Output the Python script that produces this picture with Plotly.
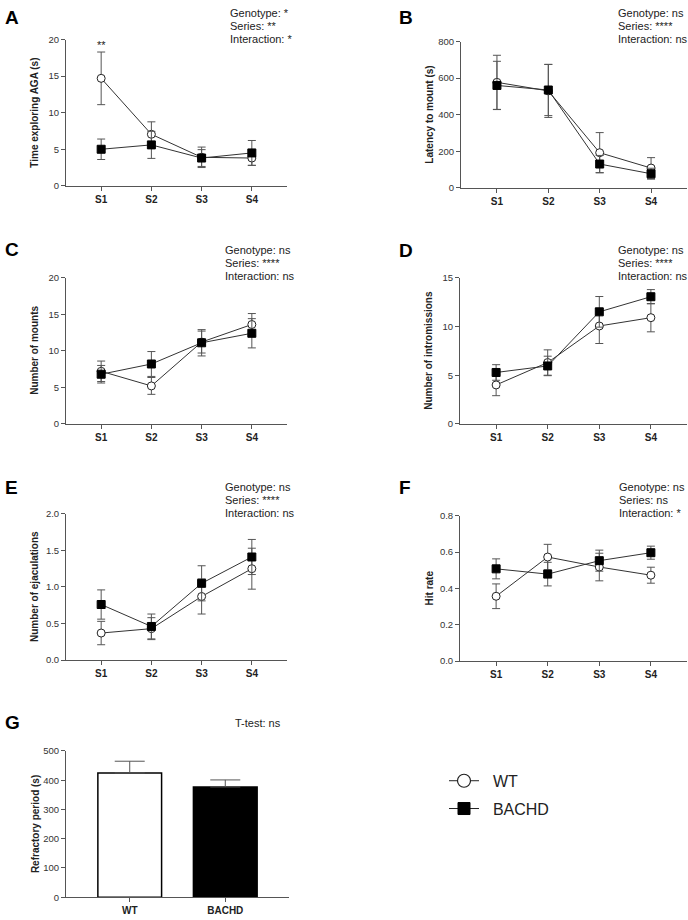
import plotly.graph_objects as go

sessions = ["S1", "S2", "S3", "S4"]
groups = ["WT", "BACHD"]

# Panel A: Time exploring AGA (s)
a_wt_mean = [14.7, 7.05, 3.9, 3.8]
a_wt_sem = [3.6, 1.7, 1.4, 1.0]
a_bachd_mean = [5.0, 5.6, 3.8, 4.5]
a_bachd_sem = [1.4, 1.85, 1.15, 1.7]

# Panel B: Latency to mount (s)
b_wt_mean = [577, 530, 192, 108]
b_wt_sem = [148, 145, 110, 57]
b_bachd_mean = [560, 535, 130, 77]
b_bachd_sem = [132, 140, 47, 30]

# Panel C: Number of mounts
c_wt_mean = [7.2, 5.2, 11.2, 13.6]
c_wt_sem = [1.4, 1.15, 1.5, 1.5]
c_bachd_mean = [6.8, 8.2, 11.1, 12.4]
c_bachd_sem = [1.2, 1.7, 1.8, 2.0]

# Panel D: Number of intromissions
d_wt_mean = [4.0, 6.3, 10.05, 10.9]
d_wt_sem = [1.1, 1.3, 1.8, 1.45]
d_bachd_mean = [5.28, 5.95, 11.5, 13.05]
d_bachd_sem = [0.8, 1.0, 1.57, 0.73]

# Panel E: Number of ejaculations
e_wt_mean = [0.37, 0.43, 0.87, 1.25]
e_wt_sem = [0.16, 0.15, 0.24, 0.28]
e_bachd_mean = [0.76, 0.46, 1.05, 1.41]
e_bachd_sem = [0.2, 0.17, 0.24, 0.24]

# Panel F: Hit rate
f_wt_mean = [0.357, 0.573, 0.518, 0.473]
f_wt_sem = [0.068, 0.07, 0.076, 0.044]
f_bachd_mean = [0.508, 0.479, 0.553, 0.597]
f_bachd_sem = [0.055, 0.065, 0.058, 0.036]

# Panel G: Refractory period (s)
g_mean = [425, 377]
g_sem = [40, 24]

W, H = 688, 920
FONT = "Arial, Liberation Sans, sans-serif"
AX = "#555555"
TXT = "#222222"


def px_x(p):
    return p / W


def px_y(p):
    return 1 - p / H


panels = [
    dict(k="", letter="A", ly=12, sx=228, sy=7, xd=(66, 287), yd=(34, 182), yr=(0, 20), dt=5, fmt="",
         title="Time exploring AGA (s)",
         d=(a_wt_mean, a_wt_sem, a_bachd_mean, a_bachd_sem),
         stats=["Genotype: *", "Series: **", "Interaction: *"]),
    dict(k="2", letter="B", ly=12, sx=616, sy=7, xd=(461, 687), yd=(36, 184), yr=(0, 800), dt=200, fmt="",
         title="Latency to mount (s)",
         d=(b_wt_mean, b_wt_sem, b_bachd_mean, b_bachd_sem),
         stats=["Genotype: ns", "Series: ****", "Interaction: ns"]),
    dict(k="3", letter="C", ly=246, sx=223, sy=247, xd=(66, 287), yd=(275, 423), yr=(0, 20), dt=5, fmt="",
         title="Number of mounts",
         d=(c_wt_mean, c_wt_sem, c_bachd_mean, c_bachd_sem),
         stats=["Genotype: ns", "Series: ****", "Interaction: ns"]),
    dict(k="4", letter="D", ly=247, sx=616, sy=247, xd=(460, 687), yd=(275, 423), yr=(0, 15), dt=5, fmt="",
         title="Number of intromissions",
         d=(d_wt_mean, d_wt_sem, d_bachd_mean, d_bachd_sem),
         stats=["Genotype: ns", "Series: ****", "Interaction: ns"]),
    dict(k="5", letter="E", ly=487, sx=223, sy=487, xd=(66, 287), yd=(514, 662), yr=(0, 2), dt=0.5, fmt=".1f",
         title="Number of ejaculations",
         d=(e_wt_mean, e_wt_sem, e_bachd_mean, e_bachd_sem),
         stats=["Genotype: ns", "Series: ****", "Interaction: ns"]),
    dict(k="6", letter="F", ly=487, sx=617, sy=487, xd=(460, 687), yd=(516, 663), yr=(0, 0.8), dt=0.2, fmt=".1f",
         title="Hit rate",
         d=(f_wt_mean, f_wt_sem, f_bachd_mean, f_bachd_sem),
         stats=["Genotype: ns", "Series: ns", "Interaction: *"]),
]

fig = go.Figure()
layout = dict(
    width=W, height=H, margin=dict(l=0, r=0, t=0, b=0),
    paper_bgcolor="white", plot_bgcolor="white",
    font=dict(family=FONT, color=TXT),
    showlegend=True,
)
annotations = []


def axis_common():
    return dict(showline=True, linecolor=AX, linewidth=1, ticks="outside",
                ticklen=4, tickcolor=AX, tickwidth=1, showgrid=False,
                zeroline=False)


for p in panels:
    k = p["k"]
    xa = "x" + k
    ya = "y" + k
    wt_m, wt_s, bh_m, bh_s = p["d"]
    fig.add_trace(go.Scatter(
        x=sessions, y=wt_m, xaxis=xa, yaxis=ya, mode="lines+markers",
        line=dict(color="#333333", width=1),
        marker=dict(symbol="circle", size=8, color="white",
                    line=dict(color="#222222", width=1)),
        error_y=dict(type="data", array=wt_s, color="#555555", thickness=1, width=4),
        showlegend=False, name="WT"))
    fig.add_trace(go.Scatter(
        x=sessions, y=bh_m, xaxis=xa, yaxis=ya, mode="lines+markers",
        line=dict(color="#333333", width=1),
        marker=dict(symbol="square", size=8, color="black",
                    line=dict(color="black", width=1)),
        error_y=dict(type="data", array=bh_s, color="#555555", thickness=1, width=4),
        showlegend=False, name="BACHD"))
    xd = [px_x(p["xd"][0]), px_x(p["xd"][1])]
    yd = [px_y(p["yd"][1]), px_y(p["yd"][0])]
    xkey = "xaxis" + k
    ykey = "yaxis" + k
    layout[xkey] = dict(axis_common(), domain=xd, anchor=ya, type="category",
                        range=[-0.7, 3.7],
                        tickfont=dict(family=FONT, size=10, color=TXT, weight="bold"))
    layout[ykey] = dict(axis_common(), domain=yd, anchor=xa,
                        range=list(p["yr"]), dtick=p["dt"], tick0=0,
                        tickformat=p["fmt"],
                        tickfont=dict(family=FONT, size=9.5, color="#333333"))
    annotations.append(dict(
        text="<b>" + p["title"] + "</b>", xref="paper", yref="paper",
        x=px_x(p["xd"][0] - 31), y=(yd[0] + yd[1]) / 2, textangle=-90,
        xanchor="center", yanchor="middle", showarrow=False,
        font=dict(family=FONT, size=10, color=TXT)))
    lx = 3 if p["xd"][0] < 300 else 397
    annotations.append(dict(
        text="<b>" + p["letter"] + "</b>", xref="paper", yref="paper",
        x=px_x(lx), y=px_y(p["ly"]), xanchor="left", yanchor="middle",
        showarrow=False, font=dict(family=FONT, size=19, color="black")))
    for i, s in enumerate(p["stats"]):
        annotations.append(dict(
            text=s, xref="paper", yref="paper",
            x=px_x(p["sx"]), y=px_y(p["sy"] + i * 13),
            xanchor="left", yanchor="middle", showarrow=False,
            font=dict(family=FONT, size=11, color=TXT)))

annotations.append(dict(
    text="**", xref="x", yref="y", x=sessions[0], y=19.3,
    xanchor="center", yanchor="middle", showarrow=False,
    font=dict(family=FONT, size=11, color=TXT)))

fig.add_trace(go.Bar(
    x=groups, y=g_mean, xaxis="x7", yaxis="y7", width=0.667,
    marker=dict(color=["white", "black"], line=dict(color="black", width=1.5)),
    error_y=dict(type="data", symmetric=False, array=g_sem, arrayminus=[0, 0],
                 color="#555555", thickness=1, width=15),
    showlegend=False))
layout["xaxis7"] = dict(axis_common(), domain=[px_x(66), px_x(289)], anchor="y7",
                        type="category", range=[-0.667, 1.667],
                        tickfont=dict(family=FONT, size=10, color=TXT, weight="bold"))
layout["yaxis7"] = dict(axis_common(), domain=[px_y(902), px_y(754)], anchor="x7",
                        range=[0, 500], dtick=100, tick0=0,
                        tickfont=dict(family=FONT, size=9.5, color="#333333"))
annotations.append(dict(
    text="<b>Refractory period (s)</b>", xref="paper", yref="paper",
    x=px_x(66 - 31), y=(px_y(902) + px_y(754)) / 2, textangle=-90,
    xanchor="center", yanchor="middle", showarrow=False,
    font=dict(family=FONT, size=10, color=TXT)))
annotations.append(dict(
    text="<b>G</b>", xref="paper", yref="paper", x=px_x(3), y=px_y(725),
    xanchor="left", yanchor="middle", showarrow=False,
    font=dict(family=FONT, size=19, color="black")))
annotations.append(dict(
    text="T-test: ns", xref="paper", yref="paper", x=px_x(233), y=px_y(726),
    xanchor="left", yanchor="middle", showarrow=False,
    font=dict(family=FONT, size=11, color=TXT)))

fig.add_trace(go.Scatter(
    x=[None], y=[None], xaxis="x7", yaxis="y7", mode="lines+markers", name="\u00a0\u00a0WT",
    line=dict(color="#222222", width=1),
    marker=dict(symbol="circle", size=13, color="white", line=dict(color="#222222", width=1.2)),
    legendgroup="wt"))
fig.add_trace(go.Scatter(
    x=[None], y=[None], xaxis="x7", yaxis="y7", mode="lines+markers", name="\u00a0\u00a0BACHD",
    line=dict(color="#222222", width=1),
    marker=dict(symbol="square", size=12, color="black", line=dict(color="black", width=1)),
    legendgroup="bachd"))

layout["legend"] = dict(x=px_x(444), y=px_y(767), xanchor="left", yanchor="top",
                        font=dict(family=FONT, size=16, color=TXT),
                        itemwidth=30, tracegroupgap=4, bgcolor="rgba(0,0,0,0)")
layout["annotations"] = annotations
fig.update_layout(**layout)

fig.write_html("out.html", config={"displayModeBar": False},
               post_script="document.body.style.margin='0';")
